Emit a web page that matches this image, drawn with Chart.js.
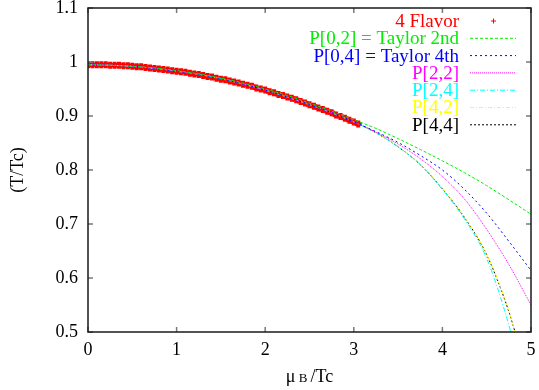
<!DOCTYPE html>
<html>
<head>
<meta charset="utf-8">
<script src="https://cdn.jsdelivr.net/npm/chart.js@4.4.1/dist/chart.umd.min.js"></script>
<style>
  html, body { margin: 0; padding: 0; background: #fff; overflow: hidden; }
  #wrap { width: 539px; height: 390px; }
</style>
</head>
<body>
<div id="wrap"><canvas id="tc-chart" width="539" height="390"></canvas></div>
<script>
// 4-flavor lattice points, mu_B/Tc vs T/Tc
const muData = [
  0, 0.05, 0.1, 0.15, 0.2, 0.25, 0.3, 0.35, 0.4, 0.45,
  0.5, 0.55, 0.6, 0.65, 0.7, 0.75, 0.8, 0.85, 0.9, 0.95,
  1, 1.05, 1.1, 1.15, 1.2, 1.25, 1.3, 1.35, 1.4, 1.45,
  1.5, 1.55, 1.6, 1.65, 1.7, 1.75, 1.8, 1.85, 1.9, 1.95,
  2, 2.05, 2.1, 2.15, 2.2, 2.25, 2.3, 2.35, 2.4, 2.45,
  2.5, 2.55, 2.6, 2.65, 2.7, 2.75, 2.8, 2.85, 2.9, 2.95,
  3, 3.05
];
const flavorT = [
  0.995, 0.995, 0.995, 0.995, 0.995, 0.994, 0.994, 0.994, 0.993, 0.993,
  0.992, 0.991, 0.991, 0.990, 0.989, 0.988, 0.987, 0.986, 0.985, 0.984,
  0.983, 0.982, 0.981, 0.979, 0.978, 0.977, 0.975, 0.973, 0.972, 0.970,
  0.968, 0.967, 0.965, 0.963, 0.961, 0.959, 0.957, 0.955, 0.952, 0.950,
  0.948, 0.945, 0.943, 0.940, 0.938, 0.935, 0.933, 0.930, 0.927, 0.924,
  0.921, 0.918, 0.915, 0.912, 0.909, 0.906, 0.902, 0.899, 0.896, 0.892,
  0.889, 0.885
];

// Taylor / Pade curves
const muGrid = [0, 0.25, 0.5, 0.75, 1, 1.25, 1.5, 1.75, 2, 2.25, 2.5,
  2.75, 3, 3.25, 3.5, 3.75, 4, 4.25, 4.5, 4.75, 5];
const taylor2 = [0.995, 0.994, 0.992, 0.989, 0.984, 0.978, 0.970, 0.961, 0.950, 0.938, 0.924,
  0.909, 0.893, 0.877, 0.858, 0.838, 0.817, 0.795, 0.771, 0.745, 0.718];
const taylor4 = [0.995, 0.994, 0.992, 0.988, 0.983, 0.977, 0.969, 0.959, 0.948, 0.935, 0.921,
  0.906, 0.889, 0.871, 0.851, 0.827, 0.800, 0.764, 0.720, 0.668, 0.614];
const pade22 = [0.995, 0.994, 0.992, 0.988, 0.983, 0.977, 0.969, 0.959, 0.948, 0.935, 0.921,
  0.906, 0.889, 0.870, 0.848, 0.821, 0.788, 0.746, 0.690, 0.625, 0.550];

// the steep ones leave the frame before mu = 5
const muPade24 = [...muGrid.slice(0, 20), 4.77];
const pade24 = [0.995, 0.994, 0.992, 0.988, 0.983, 0.977, 0.969, 0.959, 0.948, 0.935, 0.921,
  0.906, 0.889, 0.869, 0.843, 0.810, 0.764, 0.709, 0.636, 0.513, 0.500];
const muPade42 = [...muGrid.slice(0, 20), 4.82];
const pade42 = [0.995, 0.994, 0.992, 0.988, 0.983, 0.977, 0.969, 0.959, 0.948, 0.935, 0.921,
  0.906, 0.889, 0.869, 0.843, 0.810, 0.766, 0.713, 0.644, 0.540, 0.500];
const muPade44 = [...muGrid.slice(0, 20), 4.82];
const pade44 = [0.995, 0.994, 0.992, 0.988, 0.983, 0.977, 0.969, 0.959, 0.948, 0.935, 0.921,
  0.906, 0.889, 0.869, 0.843, 0.810, 0.765, 0.712, 0.643, 0.538, 0.500];

const xTicks = [0, 1, 2, 3, 4, 5];
const yTicks = [0.5, 0.6, 0.7, 0.8, 0.9, 1, 1.1];
const seriesNames = ['4 Flavor', 'P[0,2] = Taylor 2nd', 'P[0,4] = Taylor 4th',
  'P[2,2]', 'P[2,4]', 'P[4,2]', 'P[4,4]'];

const SERIF = "'Liberation Serif', 'Times New Roman', Times, 'DejaVu Serif', serif";
Chart.defaults.font.family = SERIF;
Chart.defaults.font.size = 18;
Chart.defaults.color = '#000';

const pts = (xs, ys) => xs.map((x, i) => ({ x: x, y: ys[i] }));

function curve(label, xs, ys, color, dash) {
  return {
    label: label,
    data: pts(xs, ys),
    borderColor: color,
    backgroundColor: color,
    borderWidth: 1,
    borderDash: dash,
    pointRadius: 0,
    cubicInterpolationMode: 'monotone',
    order: 0
  };
}

// gnuplot style box with inward ticks on all four sides
const frame = {
  id: 'frame',
  afterDatasetsDraw(chart) {
    const { ctx, chartArea: a, scales: { x, y } } = chart;
    ctx.save();
    ctx.strokeStyle = '#7a7a7a';
    ctx.lineWidth = 1.5;
    ctx.beginPath();
    xTicks.forEach(v => {
      const px = x.getPixelForValue(v);
      ctx.moveTo(px, a.bottom); ctx.lineTo(px, a.bottom - 5);
      ctx.moveTo(px, a.top); ctx.lineTo(px, a.top + 5);
    });
    yTicks.forEach(v => {
      const py = y.getPixelForValue(v);
      ctx.moveTo(a.left, py); ctx.lineTo(a.left + 5, py);
      ctx.moveTo(a.right, py); ctx.lineTo(a.right - 5, py);
    });
    ctx.stroke();
    ctx.strokeStyle = '#1a1a1a';
    ctx.lineWidth = 1.5;
    ctx.strokeRect(a.left, a.top, a.right - a.left, a.bottom - a.top);
    ctx.restore();
  }
};

// key in the upper right: label right-aligned, sample to its right
const key = {
  id: 'key',
  afterDatasetsDraw(chart) {
    const ctx = chart.ctx;
    ctx.save();
    ctx.font = '19px ' + SERIF;
    ctx.textAlign = 'right';
    ctx.textBaseline = 'middle';
    chart.data.datasets.forEach((ds, i) => {
      const yy = 21 + i * 17.3;
      ctx.fillStyle = ds.borderColor;
      ctx.fillText(ds.label, 459, yy + 1);
      ctx.strokeStyle = ds.borderColor;
      ctx.lineWidth = 1;
      if (ds.showLine === false) {
        ctx.beginPath();
        ctx.moveTo(491, yy); ctx.lineTo(496, yy);
        ctx.moveTo(493.5, yy - 2.5); ctx.lineTo(493.5, yy + 2.5);
        ctx.stroke();
      } else {
        ctx.setLineDash(ds.borderDash || []);
        ctx.beginPath();
        ctx.moveTo(470, yy); ctx.lineTo(516, yy);
        ctx.stroke();
        ctx.setLineDash([]);
      }
    });
    ctx.restore();
  }
};

// x axis title, with a small B
const xTitle = {
  id: 'xTitle',
  afterDraw(chart) {
    const { ctx, chartArea: a } = chart;
    const parts = [['\u03bc', 18], [' B ', 13], ['/Tc', 18]];
    ctx.save();
    ctx.textBaseline = 'alphabetic';
    ctx.textAlign = 'left';
    ctx.fillStyle = '#000';
    let w = 0;
    parts.forEach(p => { ctx.font = p[1] + 'px ' + SERIF; w += ctx.measureText(p[0]).width; });
    let xx = (a.left + a.right) / 2 - w / 2;
    parts.forEach(p => {
      ctx.font = p[1] + 'px ' + SERIF;
      ctx.fillText(p[0], xx, 382);
      xx += ctx.measureText(p[0]).width;
    });
    ctx.restore();
  }
};

const ctx = document.getElementById('tc-chart').getContext('2d');
new Chart(ctx, {
  type: 'line',
  data: {
    datasets: [
      {
        label: seriesNames[0],
        data: pts(muData, flavorT),
        showLine: false,
        pointStyle: 'cross',
        pointRadius: 3.5,
        pointBorderWidth: 4,
        borderColor: '#ff0000',
        backgroundColor: '#ff0000',
        order: 1
      },
      curve(seriesNames[1], muGrid, taylor2, '#00ee00', [3, 2]),
      curve(seriesNames[2], muGrid, taylor4, '#0000ff', [2, 3]),
      curve(seriesNames[3], muGrid, pade22, '#ff00ff', [1, 1]),
      curve(seriesNames[4], muPade24, pade24, '#00ffff', [5, 2, 1, 2]),
      curve(seriesNames[5], muPade42, pade42, '#ffff00', [4, 2, 1, 2]),
      curve(seriesNames[6], muPade44, pade44, '#000000', [2, 2])
    ]
  },
  options: {
    responsive: false,
    animation: false,
    layout: { padding: { left: 0, top: 8, right: 1, bottom: 0 } },
    plugins: {
      legend: { display: false },
      tooltip: { enabled: false }
    },
    scales: {
      x: {
        type: 'linear',
        min: 0,
        max: 5,
        grid: { display: false, drawTicks: false },
        border: { display: false },
        ticks: { padding: 7, maxRotation: 0, callback: v => String(v) },
        afterBuildTicks: s => { s.ticks = xTicks.map(v => ({ value: v })); },
        afterFit: s => { s.height = 58; s.paddingLeft = 0; s.paddingRight = 0; }
      },
      y: {
        type: 'linear',
        min: 0.5,
        max: 1.1,
        grid: { display: false, drawTicks: false },
        border: { display: false },
        ticks: { padding: 10, callback: v => String(v) },
        afterBuildTicks: s => { s.ticks = yTicks.map(v => ({ value: v })); },
        afterFit: s => { s.width = 88; s.paddingTop = 0; s.paddingBottom = 0; },
        title: { display: true, text: '(T/Tc)', padding: { top: 7, bottom: 0 } }
      }
    }
  },
  plugins: [frame, key, xTitle]
});
</script>
</body>
</html>
